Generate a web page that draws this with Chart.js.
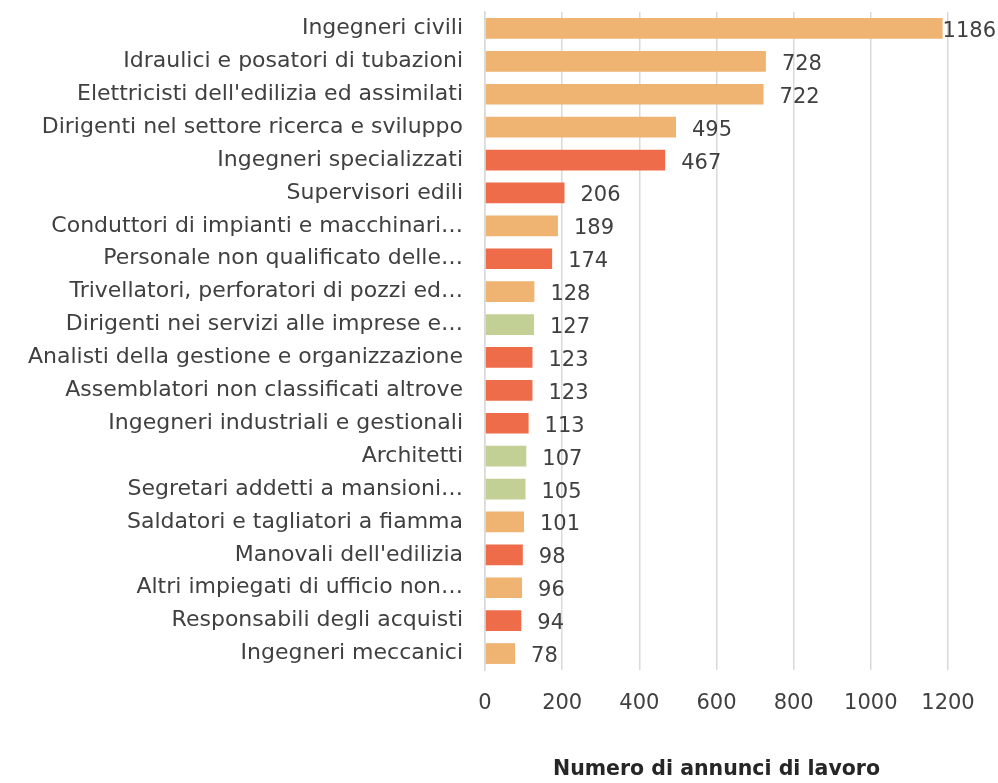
<!DOCTYPE html>
<html>
<head>
<meta charset="utf-8">
<script src="https://cdn.jsdelivr.net/npm/chart.js@4/dist/chart.umd.min.js"></script>
<style>
  html, body { margin: 0; padding: 0; background: #fff; }
  #wrap { width: 998px; height: 783px; position: relative; }
</style>
</head>
<body>
<div id="wrap"><canvas id="chart"></canvas></div>
<script>
var professioni = [
    "Ingegneri civili",
    "Idraulici e posatori di tubazioni",
    "Elettricisti dell'edilizia ed assimilati",
    "Dirigenti nel settore ricerca e sviluppo",
    "Ingegneri specializzati",
    "Supervisori edili",
    "Conduttori di impianti e macchinari…",
    "Personale non qualificato delle…",
    "Trivellatori, perforatori di pozzi ed…",
    "Dirigenti nei servizi alle imprese e…",
    "Analisti della gestione e organizzazione",
    "Assemblatori non classificati altrove",
    "Ingegneri industriali e gestionali",
    "Architetti",
    "Segretari addetti a mansioni…",
    "Saldatori e tagliatori a fiamma",
    "Manovali dell'edilizia",
    "Altri impiegati di ufficio non…",
    "Responsabili degli acquisti",
    "Ingegneri meccanici"
];
var annunci = [1186, 728, 722, 495, 467, 206, 189, 174, 128, 127, 123, 123, 113, 107, 105, 101, 98, 96, 94, 78];
var gruppi = ["a", "a", "a", "a", "r", "r", "a", "r", "a", "v", "r", "r", "r", "v", "v", "a", "r", "a", "r", "a"];
var xTicks = [0, 200, 400, 600, 800, 1000, 1200];
var titoloAsse = "Numero di annunci di lavoro";

var colori = { a: "#EFB372", r: "#EE6C4A", v: "#C2CF95" };
var FONT = "'DejaVu Sans', sans-serif";

// etichette con i valori a destra delle barre
var valueLabels = {
    id: 'valueLabels',
    afterDatasetsDraw: function(chart) {
        var ctx = chart.ctx;
        var meta = chart.getDatasetMeta(0);
        ctx.save();
        ctx.font = "21px " + FONT;
        ctx.fillStyle = "#404040";
        ctx.textBaseline = "middle";
        ctx.textAlign = "left";
        meta.data.forEach(function(bar, i) {
            var txt = String(annunci[i]);
            var w = ctx.measureText(txt).width;
            var x = Math.min(bar.x + 16, chart.width - w - 2);
            ctx.fillText(txt, x, bar.y + 3);
        });
        ctx.restore();
    }
};

var ctx = document.getElementById('chart').getContext('2d');
new Chart(ctx, {
    type: 'bar',
    data: {
        labels: professioni,
        datasets: [{
            data: annunci,
            backgroundColor: gruppi.map(function(g) { return colori[g]; }),
            barPercentage: 0.7,
            categoryPercentage: 0.9
        }]
    },
    options: {
        indexAxis: 'y',
        responsive: true,
        maintainAspectRatio: false,
        animation: false,
        layout: { padding: { top: 12, right: 50, left: 0, bottom: 0 } },
        plugins: {
            legend: { display: false },
            tooltip: { enabled: false }
        },
        scales: {
            x: {
                min: 0,
                max: 1200,
                afterBuildTicks: function(scale) {
                    scale.ticks = xTicks.map(function(v) { return { value: v }; });
                },
                grid: { color: "#D9D9D9", lineWidth: 1.5, drawTicks: false },
                border: { display: false },
                ticks: {
                    color: "#404040",
                    font: { family: FONT, size: 21 },
                    padding: 21,
                    callback: function(v) { return String(v); }
                },
                title: {
                    display: true,
                    text: titoloAsse,
                    color: "#262626",
                    font: { family: FONT, size: 20.5, weight: 'bold' },
                    padding: { top: 0, bottom: 1 }
                },
                afterFit: function(scale) {
                    scale.height = 113;
                    scale.paddingLeft = 0;
                    scale.paddingRight = 0;
                }
            },
            y: {
                grid: { display: false, drawTicks: false },
                border: { display: true, color: "#D9D9D9", width: 1.5 },
                ticks: { color: "#404040", font: { family: FONT, size: 22 }, padding: 22, autoSkip: false },
                afterFit: function(scale) {
                    scale.width = 485;
                    scale.paddingTop = 0;
                    scale.paddingBottom = 0;
                }
            }
        }
    },
    plugins: [valueLabels]
});
</script>
</body>
</html>
